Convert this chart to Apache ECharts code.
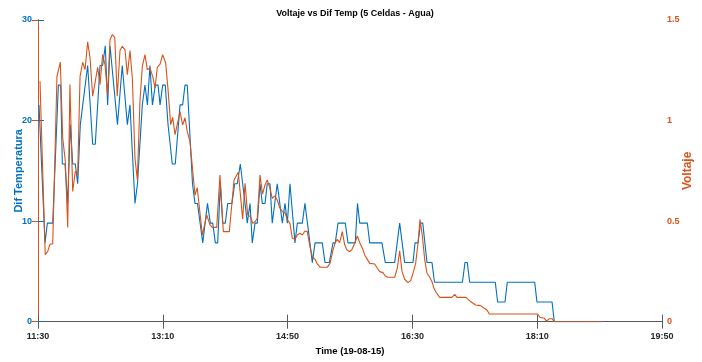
<!DOCTYPE html>
<html>
<head>
<meta charset="utf-8">
<script src="https://cdn.jsdelivr.net/npm/echarts@6/dist/echarts.min.js"></script>
<style>html,body{margin:0;padding:0;background:#fff}#c{width:702px;height:362px}</style>
</head>
<body>
<div id="c"></div>
<script>
// minutes after 11:30
var xTickLabels = ['11:30','13:10','14:50','16:30','18:10','19:50'];
var leftTickLabels = ['0','10','20','30'];
var rightTickLabels = ['0','0.5','1','1.5'];

var tempTime = [0.8,5.6,7.5,11.8,16.3,18.2,19.5,21.6,23.8,25.9,27.8,29.9,31.8,33.9,39.8,43.8,45.9,49.7,51.8,53.9,55.8,57.7,63.7,67.5,71.6,73.7,77.7,79.7,83.6,85.7,87.7,89.7,91.7,94.0,96.2,97.8,99.9,102.0,104.2,107.6,110.0,113.8,115.9,117.8,119.6,123.8,125.8,127.8,132.0,135.8,138.1,140.0,142.1,144.0,146.1,148.0,150.1,152.0,155.4,157.6,159.7,162.1,164.0,165.9,167.7,169.9,171.7,173.9,175.7,177.9,179.7,181.9,183.7,185.9,187.7,191.7,195.8,197.9,199.8,201.9,205.9,207.8,211.8,213.9,217.9,219.8,222.0,227.8,230.0,233.4,236.4,238.2,240.4,246.2,248.4,254.2,256.0,257.8,263.9,265.8,275.6,278.3,285.8,289.8,293.8,300.5,302.1,304.5,306.5,308.3,311.7,315.7,317.7,340.1,342.1,344.0,345.9,366.4,368.3,374.2,376.0,398.0,399.8,411.9,413.7,451.7];
var tempValue = [21.56,7.84,9.8,9.8,23.52,23.52,15.68,15.68,11.76,19.6,15.68,15.68,13.72,19.6,25.48,17.64,17.64,25.48,25.48,27.44,21.56,27.44,19.6,25.48,19.6,21.56,11.76,13.72,21.56,23.52,21.56,25.48,21.56,23.52,23.52,21.56,23.52,23.52,19.6,15.68,15.68,21.56,21.56,23.52,23.52,13.72,11.76,11.76,7.84,11.76,9.8,9.8,7.84,7.84,13.72,9.8,9.8,11.76,11.76,13.72,13.72,15.68,13.72,11.76,9.8,11.76,7.84,9.8,9.8,13.72,11.76,11.76,13.72,13.72,9.8,13.72,9.8,11.76,9.8,13.72,7.84,9.8,9.8,11.76,7.84,5.88,7.84,7.84,5.88,5.88,7.84,7.84,9.8,9.8,7.84,7.84,11.76,9.8,9.8,7.84,7.84,5.88,5.88,9.8,5.88,5.88,7.84,7.84,9.8,9.8,5.88,5.88,3.92,3.92,5.88,5.88,3.92,3.92,1.96,1.96,3.92,3.92,1.96,1.96,0,0];

var voltTime = [1.6,5.8,7.8,9.6,11.8,15.2,17.9,19.8,21.9,23.8,25.6,27.8,29.9,31.8,33.7,35.8,37.7,39.8,41.7,43.8,45.9,47.8,49.7,51.8,53.7,55.8,57.7,59.5,61.5,63.5,65.7,67.5,69.7,71.6,73.7,75.6,77.7,79.6,81.7,83.6,85.7,87.6,89.7,91.9,93.8,95.6,97.8,99.9,102.3,104.2,106.3,107.9,109.8,113.8,115.9,117.8,119.6,121.8,125.8,127.6,131.7,135.2,137.8,139.7,143.2,145.8,148.5,153.3,157.1,160.5,164.0,165.9,168.0,170.4,172.0,173.9,175.7,177.9,179.9,181.9,183.7,185.9,187.7,189.9,191.7,193.9,195.8,197.9,199.8,201.9,203.8,205.9,207.8,209.9,211.8,213.9,215.8,217.9,219.8,222.0,223.8,226.0,231.8,234.0,236.4,238.2,239.8,241.7,243.8,245.8,247.6,249.8,251.6,253.8,255.9,257.8,259.9,261.8,263.9,265.8,269.8,271.9,273.8,276.4,278.3,280.4,285.8,287.9,289.8,291.7,293.8,296.5,298.6,300.5,302.6,304.5,306.1,307.9,309.9,311.7,313.9,315.7,317.3,319.2,321.9,331.7,333.9,335.7,342.9,346.9,350.6,354.6,357.6,359.8,361.6,400.4,402.2,405.7,407.6,409.7,411.9,413.7,451.7];
var voltValue = [1.195,0.333,0.350,0.386,0.386,1.220,1.291,0.913,0.798,0.469,1.179,0.648,0.748,0.731,1.220,1.290,1.253,1.391,1.311,1.121,1.195,1.265,1.179,1.328,1.278,1.129,1.402,1.427,1.414,1.121,1.348,1.369,1.353,1.228,1.348,1.212,0.814,0.706,1.096,1.270,1.328,1.253,1.262,1.220,1.162,1.265,1.281,1.328,1.286,1.154,0.980,1.016,0.930,1.044,0.978,1.014,0.945,0.895,0.630,0.666,0.431,0.531,0.481,0.469,0.469,0.729,0.448,0.448,0.705,0.743,0.510,0.688,0.531,0.522,0.489,0.497,0.514,0.729,0.635,0.680,0.705,0.663,0.614,0.625,0.605,0.564,0.547,0.542,0.506,0.489,0.415,0.410,0.431,0.440,0.431,0.451,0.448,0.373,0.323,0.310,0.287,0.271,0.271,0.290,0.357,0.393,0.410,0.393,0.448,0.381,0.357,0.348,0.360,0.390,0.426,0.393,0.365,0.332,0.310,0.290,0.287,0.266,0.249,0.244,0.227,0.221,0.221,0.266,0.353,0.249,0.211,0.194,0.204,0.241,0.290,0.390,0.509,0.431,0.307,0.241,0.221,0.199,0.166,0.144,0.121,0.121,0.136,0.121,0.121,0.099,0.083,0.080,0.067,0.058,0.038,0.038,0.022,0.017,0.003,0.015,0.015,0,0];

var tempData = tempTime.map(function(t,i){return [t,tempValue[i]];});
var voltData = voltTime.map(function(t,i){return [t,voltValue[i]];});

var BLUE = '#0072BD', ORANGE = '#D95319', AX = '#5a5a5a';
var FONT = '"Liberation Sans",Arial,sans-serif';

var chart = echarts.init(document.getElementById('c'), null, {renderer:'canvas'});
chart.setOption({
  animation: false,
  backgroundColor: '#fff',
  title: {
    text: 'Voltaje vs Dif Temp (5 Celdas - Agua)',
    left: 350, top: 4, textAlign: 'center',
    textStyle: {fontFamily: FONT, fontSize: 9, fontWeight: 'bold', color: '#000'}
  },
  grid: {left: 38, right: 40, top: 20, bottom: 40.3, containLabel: false, outerBoundsMode: 'none'},
  xAxis: [{
    type: 'value', min: 0, max: 500, interval: 100,
    name: 'Time (19-08-15)', nameLocation: 'middle', nameGap: 25,
    nameTextStyle: {fontFamily: FONT, fontSize: 9.5, fontWeight: 'bold', color: '#000'},
    axisLine: {show: true, lineStyle: {color: AX, width: 1}},
    axisTick: {show: true, inside: true, length: 7, lineStyle: {color: AX}},
    axisLabel: {margin: 10, fontFamily: FONT, fontSize: 9, fontWeight: 'bold', color: '#262626',
      formatter: function(v){ return xTickLabels[Math.round(v/100)]; }},
    splitLine: {show: false}
  }, {
    type: 'value', position: 'top', min: 0, max: 500, interval: 100,
    axisLine: {show: true, lineStyle: {color: AX, width: 1}},
    axisTick: {show: true, inside: true, length: 7, lineStyle: {color: AX}},
    axisLabel: {show: false}, splitLine: {show: false}
  }],
  yAxis: [{
    type: 'value', min: 0, max: 30, interval: 10, position: 'left',
    name: 'Dif Temperatura', nameLocation: 'middle', nameGap: 14, nameRotate: 90,
    nameMoveOverlap: false,
    nameTextStyle: {fontFamily: FONT, fontSize: 11, fontWeight: 'bold', color: BLUE},
    axisLine: {show: true, lineStyle: {color: BLUE, width: 1}},
    axisTick: {show: true, inside: true, length: 6, lineStyle: {color: BLUE}},
    axisLabel: {margin: 6, fontFamily: FONT, fontSize: 9, fontWeight: 'bold', color: BLUE,
      formatter: function(v){ return leftTickLabels[Math.round(v/10)]; }},
    splitLine: {show: false}
  }, {
    type: 'value', min: 0, max: 1.5, interval: 0.5, position: 'right',
    name: 'Voltaje', nameLocation: 'middle', nameGap: 20, nameRotate: 90,
    nameMoveOverlap: false,
    nameTextStyle: {fontFamily: FONT, fontSize: 12, fontWeight: 'bold', color: ORANGE},
    axisLine: {show: true, lineStyle: {color: ORANGE, width: 1}},
    axisTick: {show: true, inside: true, length: 6, lineStyle: {color: ORANGE}},
    axisLabel: {margin: 5, fontFamily: FONT, fontSize: 9, fontWeight: 'bold', color: ORANGE,
      formatter: function(v){ return rightTickLabels[Math.round(v/0.5)]; }},
    splitLine: {show: false}
  }],
  series: [{
    type: 'line', xAxisIndex: 0, yAxisIndex: 0, data: tempData,
    showSymbol: false, lineStyle: {color: BLUE, width: 1.1}, itemStyle: {color: BLUE}
  }, {
    type: 'line', xAxisIndex: 0, yAxisIndex: 1, data: voltData,
    showSymbol: false, lineStyle: {color: ORANGE, width: 1.1}, itemStyle: {color: ORANGE}
  }]
});
</script>
</body>
</html>
